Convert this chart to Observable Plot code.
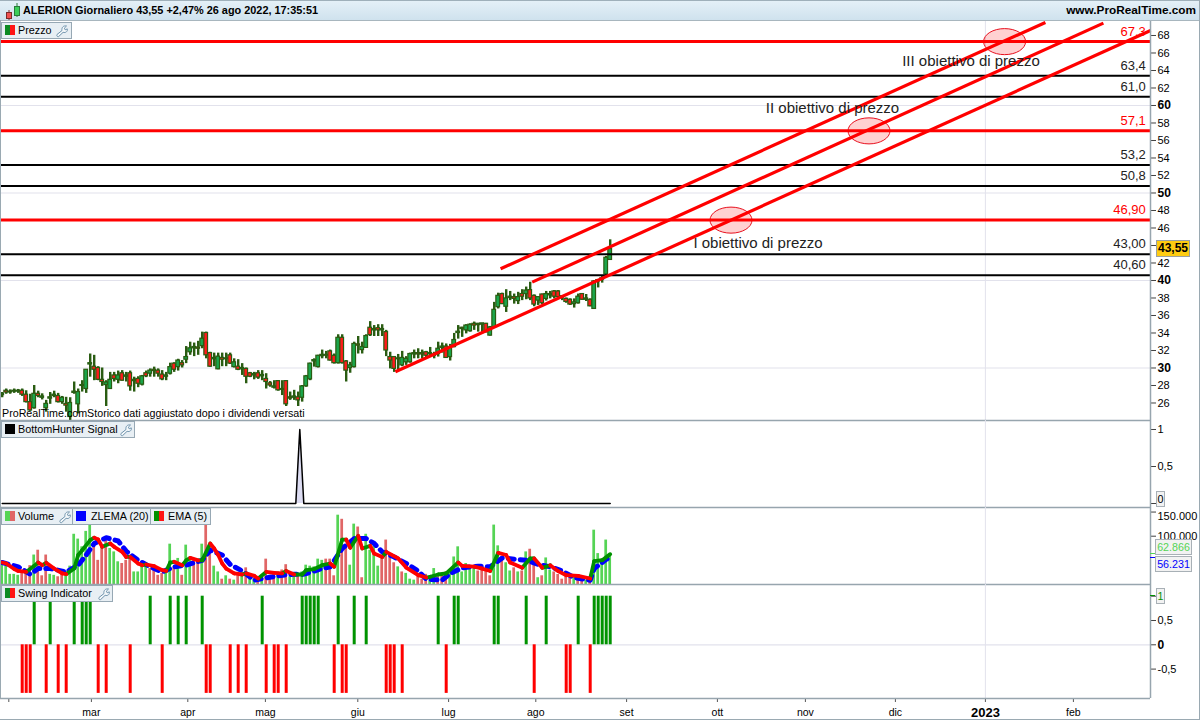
<!DOCTYPE html>
<html><head><meta charset="utf-8">
<script src="https://cdn.jsdelivr.net/npm/d3@7"></script>
<script src="https://cdn.jsdelivr.net/npm/@observablehq/plot@0.6"></script>
<style>
html,body{margin:0;padding:0;background:#fff}
#page{position:relative;width:1200px;height:720px;overflow:hidden;font-family:"Liberation Sans",Arial,sans-serif;background:#fff;color:#000}
.panel{position:absolute;left:0}
.panel svg{display:block;overflow:visible;background:transparent}
#head{position:absolute;left:0;top:0;width:1200px;height:21px;background:linear-gradient(#e4f0f7,#cfe2ee);border-top:1px solid #9fb0ba;box-sizing:border-box;border-bottom:1px solid #a8b6be;font-weight:bold;font-size:10.9px;line-height:19px;white-space:pre}
.chip{position:absolute;height:17px;background:#e8eff4;border:1px solid #97a8b4;box-sizing:border-box;font-size:10.8px;line-height:15px;white-space:pre;color:#000}
.chip span{position:absolute;top:0px}
.sw{position:absolute;top:2px;height:10px;width:5px}
.val{position:absolute;box-sizing:border-box;border:1px solid #a8b0b6;background:#f2f2f2;font-size:10.7px;line-height:14px;text-align:center}
.frameL{position:absolute;left:0;top:20px;width:1px;height:678px;background:#9aa9b2}
.frameB{position:absolute;left:0;top:719px;width:1200px;height:1px;background:#9aa9b2}
.frameR{position:absolute;left:1199px;top:0;width:1px;height:720px;background:#9aa9b2}
</style></head><body><div id="page"></div>
<script>
// ---------- price panel values ----------
const open  = [26.9,27.4,27.2,27.3,27.3,27.4,26.95,26.1,25.4,27.05,26.6,25.4,26.5,26.8,26.8,26.1,25.9,24.4,27.15,25.85,27.95,27.6,30.4,30.15,30,28.65,28.05,27.6,29.15,28.65,29.4,29,29.4,28.5,28.75,28.1,29.4,29.35,29.8,29.7,29.25,29,29.35,30.5,30.1,30.55,30.95,31.8,32.25,32.35,32.5,34,31.7,31,29.85,31.15,31,31.45,30.1,30.15,29.85,29.9,29.4,29.15,29.4,29.05,28.75,28.25,27.75,28.5,27.6,28.5,26.65,26.6,26.65,26.6,27.9,28.7,30.75,30.1,31.35,31.5,31.9,31.4,30.55,33.45,30.75,30,30.1,32.7,32.05,32.3,34.6,34.3,34.55,34.3,34.1,31.25,31.25,31,30.3,30.65,30.65,31.55,31.7,31.7,31.8,31.55,31.4,31.6,32.3,32.45,31.25,32.4,34,34.6,34.3,34.2,35.05,34.9,34.95,35.05,33.7,34.65,36.95,38.45,37,38,38.1,37.65,38.45,38.45,38.9,38.25,37.7,38.4,37.9,38.3,38.75,38.75,38.05,37.9,37.8,37.3,37.4,38.45,37.8,37.8,36.75,39.9,40.1,40.7,42.35];
const high  = [27.2,27.6,27.5,27.6,27.55,27.6,27.4,27,28,27.35,27.05,26.3,27.2,27.35,27.1,26.75,26.65,26.6,28.4,27.6,28.55,29.8,31.6,31.45,30.15,30,28.55,29.5,29.5,29.65,29.7,29.5,29.65,28.95,29,29.15,29.65,29.9,30.1,29.9,29.7,29.5,30.55,30.6,31,30.85,32.45,32.95,32.85,33.05,34.1,34.1,31.8,31.7,31.7,31.7,31.7,31.7,31.05,30.95,30.5,30,29.5,29.5,29.7,29.7,29.35,28.45,28.55,28.55,28.55,28.55,27.25,27.45,27.25,28,29.15,30.55,31.05,31.45,32.05,31.9,32.05,31.6,33.8,33.8,30.85,30.65,32.95,33.6,32.95,33.8,35.3,34.85,34.95,34.95,34.3,31.8,31.3,31.55,31.9,31.3,31.7,32.05,32.2,32.05,31.9,32.35,31.8,32.95,32.85,32.75,32.7,33.95,34.85,34.65,34.95,35.05,35.25,35.1,35.1,35.1,34.75,37.5,38.55,38.55,38.95,38.75,38.45,38.65,38.95,39.25,39.8,38.35,38.15,38.45,38.75,38.75,38.85,38.85,38.25,38,37.9,37.9,38.45,38.5,38.4,37.9,40,40.05,40.55,42.75,44.65];
const low   = [26.6,27,27,27.1,27.1,26.75,26,25.05,25.3,26.6,26.35,24.95,25.85,26.6,26,25.85,24.95,24,27,24.75,27.25,27.1,28.95,28.55,28.55,27.9,25.6,27.6,28.4,28.2,28.5,28.4,27.35,27.25,27.75,27.95,28.9,28.95,28.95,28.95,28.55,28.55,29.2,29.5,29.65,30,30.5,31.45,31.3,31.45,32.2,31.05,30.1,30.15,29.8,30.15,30.15,30.4,30,29.7,29.15,28.2,28.9,28.65,28.7,28.55,27.6,27.8,27.6,27.35,26.85,25.6,26.3,26.3,25.6,26.1,27.8,28.55,30.1,30,31.05,31.05,30.8,30.45,30.45,30.45,28.4,29.4,30,31.6,31.6,32.25,33.6,33.6,33.6,33.6,31.3,29.9,29.5,29.7,30.15,30.3,30.55,31.05,31.05,31.05,31.15,31.25,31.05,31.25,31.7,31.1,30.8,32.3,33.3,33.5,33.9,34.1,34.3,34.1,33.9,34,33.65,34.6,36.75,37.25,36.35,37.7,37.3,37.25,37.7,37.8,37.7,37,37.15,37.25,37.65,37.9,37.9,37.9,37.7,37.4,37.15,36.85,37.3,37.75,37.6,37,36.7,39.15,39.7,40.6,42.3];
const close = [27.05,27.2,27.3,27.4,27.4,26.95,26.1,25.15,27.05,26.8,26.75,25.9,26.65,26.95,26.1,26.6,25.7,26,27.3,27.25,28.05,29.8,30.55,29.8,28.65,28.4,28.35,28.65,28.75,29.15,28.55,29.15,27.9,28.65,28.2,29.05,29.05,29.7,29.65,29.35,28.7,29.15,30.1,29.8,30.85,30.3,31.25,32.25,32.4,32.2,33.35,31.45,30.15,31.15,31.3,30.95,31.1,30.5,30.65,29.8,30,29,29,29.3,28.9,29.2,28.4,28,27.9,27.45,27.5,25.85,26.5,26.75,26.3,27.9,29.05,30.5,30.9,31.4,31.5,31.4,30.85,30.55,33.45,30.55,29.7,30.3,32.75,32.55,32.4,33.65,33.75,34.45,34.3,34.45,32,30.85,29.9,31.1,31.15,31.05,31.6,31.7,31.55,31.55,31.4,31.7,31.55,32.2,32.45,31.15,32.3,33.2,34.15,34.45,34.85,34.95,34.85,35.05,35.1,34.1,34.65,36.65,38.25,37.3,37.95,38.15,37.9,38.1,38.15,38.85,37.95,37.25,38.1,37.4,38.45,38.45,38.15,38.1,38.2,37.55,37.25,37.5,38.15,37.8,37.95,37.05,39.9,40.05,40.25,42.6,43.6];

const levelValues = [67.3,63.4,61.0,57.1,53.2,50.8,46.9,43.0,40.6];
const levelLabels = ["67,3","63,4","61,0","57,1","53,2","50,8","46,90","43,00","40,60"];
const levelIsRed  = [true,false,false,true,false,false,true,false,false];
const trendStartIdx = [124.6,132.5,98.3];
const trendStartVal = [41.34,39.81,29.57];
const trendEndIdx   = [260.8,275.3,287.1];
const trendEndVal   = [69.49,69.41,68.57];
const targetIdx = [182.2,216.7,250.6];
const targetVal = [46.9,57.1,67.3];
const noteLabels = ["I obiettivo di prezzo","II obiettivo di prezzo","III obiettivo di prezzo"];
const noteIdx = [172.8,190.9,225];
const noteVal = [44.25,59.65,65.05];
const priceGrid = [30,40,50,60];
const priceTicks = [26,28,32,34,36,38,42,44,46,48,52,54,56,58,62,64,66,68];

// ---------- BottomHunter ----------
const hunterIdx = [0,73.4,74.4,75.4,152];
const hunterVal = [0,0,1,0,0];

// ---------- volume panel (thousands of shares) ----------
const volumeK = [47,38,21,21,19,27.5,23,39,61,71,18,61,21,19,16,21,26,38,104,94,78,110,123,80,50,80,95,74.5,67.5,47,43.5,50,61,26,26,40,36.5,33,30,19,23,26,83.5,36.5,54,19,81.5,54,54,50,83.5,123,78,38,26,11,18,11,9,18,26,34.5,16,11,11,18,52.5,19,19,26,30,41,16,16,19,26,40,38,36.5,52.5,50,52.5,52.5,18,143.5,135,81.5,40,125,119,14,104,71,80,38,54,92,57,45,36.5,26,23,11,9,16,11,21,9,33,16,19,26,23,57,78,26,43.5,34.5,34.5,28,36.5,33,18,123,80,57,45,28,34.5,26,28,67.5,73,57,14,18,55,30,26,20.7,11,16,18,16,11,9,9,16,112.5,64,45,92,64];
const volumeSide = "GGGGGRRRGRRRGGRRGGGGGGGRRRRGGGRRRGGGGRRRRGGRGRGGRRGRRGGRGRGRGRGGRGRRRGRRGGRGGGGGGRRRGRRGGRRGGGGRRRRGRGGGRRRGGRRRGGGGGGGRRRRGGRGGRGRGRRGRGGRRRRRGRRGRGGGGG".split("");
const emaIdx = [0,1,3,4,6,8,9,10,11,13,15,16,18,19,20,22,23,24,25,27,28,30,31,32,34,35,36,38,40,41,42,43,45,46,47,49,50,52,53,54,55,56,58,60,61,63,64,66,68,70,71,73,75,76,78,80,82,83,85,86,87,89,90,92,93,95,96,99,101,104,106,107,109,111,114,115,118,120,122,124,126,127,130,132,133,135,137,139,141,144,147,148,150,152];
const emaK   = [45.5,43.5,32,28,26,38.6,45.5,40,45,33,23,21.4,33,61,71,92,97,93,78,85,78,67.6,57,57,43.5,40,41.4,38,29.7,28,45.5,47,40,50,55,50,50,85,74.5,61,43.5,33,23,20.7,23,18,12.4,26,24,23,28,20.7,20.7,29.7,32,40,43.5,36.6,93,93,76,100.7,74.5,80,64,57,67.6,54,35,19.3,14.5,16,20.7,23,45.5,38.6,37,33,28,65.5,61,45.5,34.5,54,54,34.5,40,27.6,19.3,18,12.4,48.3,50.4,62.87];
const zlemaIdx = [0,4,7,9,12,16,19,21,23,26,29,31,34,37,40,43,46,50,52,55,57,60,63,65,69,73,75,76,80,82,85,88,91,93,95,98,101,104,106,110,112,115,119,122,125,128,131,134,137,140,143,147,148,151,152];
const zlemaK   = [45.5,36.6,21.4,33,33,26,40,61,85,97,90,69,50,36.6,26,36.6,40,50,71,61,41.4,28,9,12.4,18,21.4,20.7,22.8,33,36.6,74.5,95,95,85,67.6,57,43.5,28,11,9,23,34.5,38,36.6,55,52.5,50.4,41.4,36.6,28,14,9,33,52,56.23];
const volumeTicks = [150000,100000];

// ---------- swing indicator ----------
const swingUp = [8,12,18,20,21,22,37,42,44,46,50,65,75,76,77,78,79,84,88,91,109,113,114,123,124,131,136,144,148,149,150,151,152];
const swingDown = [5,6,7,11,14,16,24,26,32,40,51,52,57,59,61,66,68,69,71,83,85,86,96,97,98,100,111,133,141,142,147];

// ---------- time axis (position on the trading-day index) ----------
const monthIdx = [1.65,22.3,46.4,65.8,88.9,111.6,133.4,156.1,178.8,200.8,223.3,267.8];
const monthLabels = ["","mar","apr","mag","giu","lug","ago","set","ott","nov","dic","feb"];
const yearIdx = [245.8];
const yearLabels = ["2023"];

// ---------- colours ----------
const C = {grid:"#e2e2ec",frame:"#97a5ae",dark:"#2a5c12",up:"#1aa64b",down:"#ff1a1a",volUp:"#55d455",volDown:"#e06666",red:"#ff0000",emaUp:"#009000",blue:"#0000ff",swingUp:"#009300"};
const W = 1200, R = 50;
const xDomain = [-0.425, 287.075];
const page = document.getElementById("page");

function base(h, domain, marks, extra={}){
  return Plot.plot(Object.assign({
    width:W,height:h,marginTop:0,marginBottom:0,marginLeft:0,marginRight:R,
    x:{domain:xDomain,axis:null},
    y:{domain,axis:null},
    style:{fontFamily:'"Liberation Sans",Arial,sans-serif',background:"transparent",fontSize:"11px",color:"#000"},
    marks
  },extra));
}
function place(svg,top){const d=document.createElement("div");d.className="panel";d.style.top=top+"px";d.appendChild(svg);page.appendChild(d);}
function html(cls,style,txt){const d=document.createElement("div");d.className=cls;d.style.cssText=style;if(txt!=null)d.textContent=txt;page.appendChild(d);return d;}
const comma = d=>String(d).replace(".",",");

// ---------- tables built from the arrays ----------
const candles = open.map((o,i)=>({i,o,h:high[i],l:low[i],c:close[i]}));
const levels = levelValues.map((v,i)=>({v,label:levelLabels[i],red:levelIsRed[i]}));
const trends = trendStartIdx.map((x,i)=>({x1:x,y1:trendStartVal[i],x2:trendEndIdx[i],y2:trendEndVal[i]}));
const targets = targetIdx.map((x,i)=>({x,y:targetVal[i]}));
const notes = noteLabels.map((t,i)=>({t,x:noteIdx[i],y:noteVal[i]}));
const vols = volumeK.map((k,i)=>({i,v:k*1000,side:volumeSide[i]}));
const emaPts = emaIdx.map((x,i)=>({x,v:emaK[i]*1000}));
const emaSeg = emaPts.slice(1).map((p,i)=>({x1:emaPts[i].x,y1:emaPts[i].v,x2:p.x,y2:p.v,up:p.v>=emaPts[i].v}));
const zlPts = zlemaIdx.map((x,i)=>({x,v:zlemaK[i]*1000}));
const hunter = hunterIdx.map((x,i)=>({x,v:hunterVal[i]}));

// ellipse symbol for the target marks
const ellipse = {draw(ctx,size){
  const r=Math.sqrt(size/Math.PI), a=r, b=r*0.62, k=0.5523;
  ctx.moveTo(-a,0);
  ctx.bezierCurveTo(-a,-k*b,-k*a,-b,0,-b);
  ctx.bezierCurveTo(k*a,-b,a,-k*b,a,0);
  ctx.bezierCurveTo(a,k*b,k*a,b,0,b);
  ctx.bezierCurveTo(-k*a,b,-a,k*b,-a,0);
  ctx.closePath();
}};

const rightAxis = (ticks,fmt,opts={})=>Plot.axisY(ticks,Object.assign({anchor:"right",tickSize:5,tickPadding:2,tickFormat:fmt,label:null,fontSize:11,stroke:"#000",strokeOpacity:0.75,fill:"#000"},opts));
const frameR = Plot.ruleX([xDomain[1]],{stroke:C.frame,strokeWidth:1.5});
const yearLine = Plot.ruleX(yearIdx,{stroke:C.grid,strokeWidth:1});

// ---------- price panel ----------
place(base(400,[24,69.714],[
  Plot.ruleY(priceGrid,{stroke:C.grid,strokeWidth:1.2}),
  yearLine,
  Plot.ruleX(candles,{x:"i",y1:"l",y2:"h",stroke:C.dark,strokeWidth:2.4}),
  Plot.rect(candles,{x1:d=>d.i-0.46,x2:d=>d.i+0.46,y1:d=>Math.min(d.o,d.c),y2:d=>Math.max(d.o,d.c),fill:d=>d.c>=d.o?C.up:C.down,stroke:C.dark,strokeWidth:1.2}),
  Plot.dot(targets,{x:"x",y:"y",symbol:ellipse,r:21,fill:"#ff0000",fillOpacity:0.18,stroke:"#e8101e",strokeWidth:1}),
  Plot.ruleY(levels.filter(d=>!d.red),{y:"v",stroke:"#000",strokeWidth:2}),
  Plot.ruleY(levels.filter(d=>d.red),{y:"v",stroke:C.red,strokeWidth:3}),
  Plot.link(trends,{x1:"x1",y1:"y1",x2:"x2",y2:"y2",stroke:C.red,strokeWidth:3.2}),
  Plot.text(levels.filter(d=>!d.red),{x:()=>285.9,y:"v",text:"label",textAnchor:"end",dy:-10,fontSize:13,fill:"#222"}),
  Plot.text(levels.filter(d=>d.red),{x:()=>285.9,y:"v",text:"label",textAnchor:"end",dy:-10,fontSize:13,fill:C.red}),
  Plot.text(notes,{x:"x",y:"y",text:"t",textAnchor:"start",fontSize:15,fill:"#222"}),
  rightAxis(priceTicks,d=>d===44?"":String(d)),
  rightAxis(priceGrid,d=>String(d),{fontWeight:"bold",fontSize:12}),
  frameR,
  Plot.ruleY([24],{stroke:C.frame,strokeWidth:1.5})
]),20);

// ---------- BottomHunter ----------
place(base(87,[-0.054,1.1216],[
  yearLine,
  Plot.areaY(hunter,{x:"x",y:"v",fill:"#dcdcf2",curve:"linear"}),
  Plot.line(hunter,{x:"x",y:"v",stroke:"#000",strokeWidth:1.5}),
  rightAxis([1,0.5,0],d=>d===0?"":comma(d)),
  frameR,
  Plot.ruleY([-0.054],{stroke:C.frame,strokeWidth:1.5})
]),420);

// ---------- volume ----------
place(base(77,[0,159420],[
  yearLine,
  Plot.rect(vols.filter(d=>d.side==="G"),{x1:d=>d.i-0.34,x2:d=>d.i+0.34,y1:()=>0,y2:"v",fill:C.volUp}),
  Plot.rect(vols.filter(d=>d.side==="R"),{x1:d=>d.i-0.34,x2:d=>d.i+0.34,y1:()=>0,y2:"v",fill:C.volDown}),
  Plot.line(zlPts,{x:"x",y:"v",stroke:C.blue,strokeWidth:5,strokeDasharray:"6 6",strokeLinejoin:"round"}),
  Plot.link(emaSeg.filter(d=>d.up),{x1:"x1",y1:"y1",x2:"x2",y2:"y2",stroke:C.emaUp,strokeWidth:3.8,strokeLinecap:"round"}),
  Plot.link(emaSeg.filter(d=>!d.up),{x1:"x1",y1:"y1",x2:"x2",y2:"y2",stroke:C.red,strokeWidth:3.8,strokeLinecap:"round"}),
  rightAxis(volumeTicks,d=>d===150000?"":d3.format(",")(d).replace(/,/g,".")),
  Plot.text(volumeTicks.slice(0,1),{x:()=>xDomain[1],y:d=>d,text:d=>d3.format(",")(d).replace(/,/g,"."),textAnchor:"start",dx:7,dy:4.5,fontSize:11,fill:"#000"}),
  frameR,
  Plot.ruleY([0],{stroke:C.frame,strokeWidth:1.5})
]),507);

// ---------- swing ----------
place(base(136,[-1.105,1.2407],[
  Plot.ruleY([0],{stroke:C.grid,strokeWidth:1.2}),
  yearLine,
  Plot.ruleX(swingUp,{x:d=>d,y1:()=>0,y2:()=>1,stroke:C.swingUp,strokeWidth:3}),
  Plot.ruleX(swingDown,{x:d=>d,y1:()=>0,y2:()=>-1,stroke:C.red,strokeWidth:3}),
  rightAxis([1,0.5,-0.5],d=>d===1?"":comma(d)),
  rightAxis([0],d=>"0",{fontWeight:"bold",fontSize:12}),
  Plot.axisX(monthIdx,{anchor:"bottom",tickSize:4,tickPadding:6,tickFormat:(d)=>monthLabels[monthIdx.indexOf(d)],label:null,fontSize:10.5,stroke:"#555",fill:"#000"}),
  Plot.axisX(yearIdx,{anchor:"bottom",tickSize:4,tickPadding:5,tickFormat:(d)=>yearLabels[yearIdx.indexOf(d)],label:null,fontSize:13,fontWeight:"bold",stroke:"#555",fill:"#000"}),
  frameR,
  Plot.ruleY([-1.105],{stroke:C.frame,strokeWidth:1.5})
],{marginBottom:22}),584);

// ---------- chrome ----------
const head=html("", "", null); head.id="head";
const logo=`<svg width="18" height="18" style="position:absolute;left:3px;top:1px"><line x1="6" y1="8" x2="6" y2="18" stroke="#7a2a2a"/><rect x="3.5" y="10.5" width="5" height="6" fill="#ef5050" stroke="#7a2a2a"/><line x1="14" y1="1" x2="14" y2="15" stroke="#2a7a3a"/><rect x="11.5" y="4.5" width="5" height="9" fill="#3ccf5a" stroke="#2a7a3a"/></svg>`;
head.innerHTML=logo+`<span style="position:absolute;left:23px;top:0">ALERION Giornaliero 43,55 +2,47% 26 ago 2022, 17:35:51</span><span style="position:absolute;right:4px;top:0;font-size:11.8px">www.ProRealTime.com</span>`;
html("frameL","");html("frameB","");html("frameR","");

const wrench=(x)=>`<svg width="14" height="14" viewBox="0 0 14 14" style="position:absolute;left:${x}px;top:0.5px"><path d="M2 10.5 L7 6.5 C6.3 3.6 8.5 1.3 11.5 2 L9.3 4.2 L10.2 5.8 L12.3 4.9 C13 7.3 10.6 9.2 8.1 8.3 L3.6 12.6 C2.4 13.2 1.3 11.6 2 10.5 Z" fill="#f4f8fa" stroke="#6f93ad" stroke-width="1"/></svg>`;
function chip(l,t,w,label,sw,wr,labelX=16){
  const d=html("chip",`left:${l}px;top:${t}px;width:${w}px`,null);
  let s="";
  sw.forEach((c,i)=>{s+=`<div class="sw" style="left:${c[1]}px;background:${c[0]};width:${c[2]}px"></div>`;});
  d.innerHTML=s+`<span style="left:${labelX}px">${label}</span>`+(wr?wrench(wr):"");
}
chip(1,22,71,"Prezzo",[["#0c8a22",3,5],["#ff1414",8,5]],53);
chip(1,421,134,"BottomHunter Signal",[["#000",3,10]],117);
chip(1,508,72,"Volume",[["#55d455",3,5],["#e06666",8,5]],56);
chip(72,508,79,"ZLEMA (20)",[["#0000ff",3,10]],null,18);
chip(150,508,61,"EMA (5)",[["#009000",3,5],["#ff1414",8,5]],null,17);
chip(1,585,112,"Swing Indicator",[["#0c8a22",3,5],["#ff1414",8,5]],95);

html("", "position:absolute;left:2px;top:406px;font-size:10.7px;line-height:14px;white-space:pre","ProRealTime.comStorico dati aggiustato dopo i dividendi versati");

html("val","left:1156px;top:240px;width:34px;height:17px;background:#ffcc11;font-weight:bold;font-size:12px;border-color:#9aa0a0","43,55");
html("val","left:1156px;top:491px;width:9px;height:16px;","0");
html("val","left:1155px;top:539px;width:37px;height:16px;color:#55d455","62.866");
html("val","left:1155px;top:556px;width:37px;height:16px;color:#0000ff","56.231");
html("val","left:1156px;top:588px;width:9px;height:16px;color:#009000","1");
// current-value ticks on the right axis
html("", "position:absolute;left:1150px;top:553px;width:5px;height:1px;background:#55d455");
html("", "position:absolute;left:1150px;top:557px;width:5px;height:1px;background:#0000ff");
html("", "position:absolute;left:1150px;top:595px;width:5px;height:1px;background:#009000");
</script></body></html>
